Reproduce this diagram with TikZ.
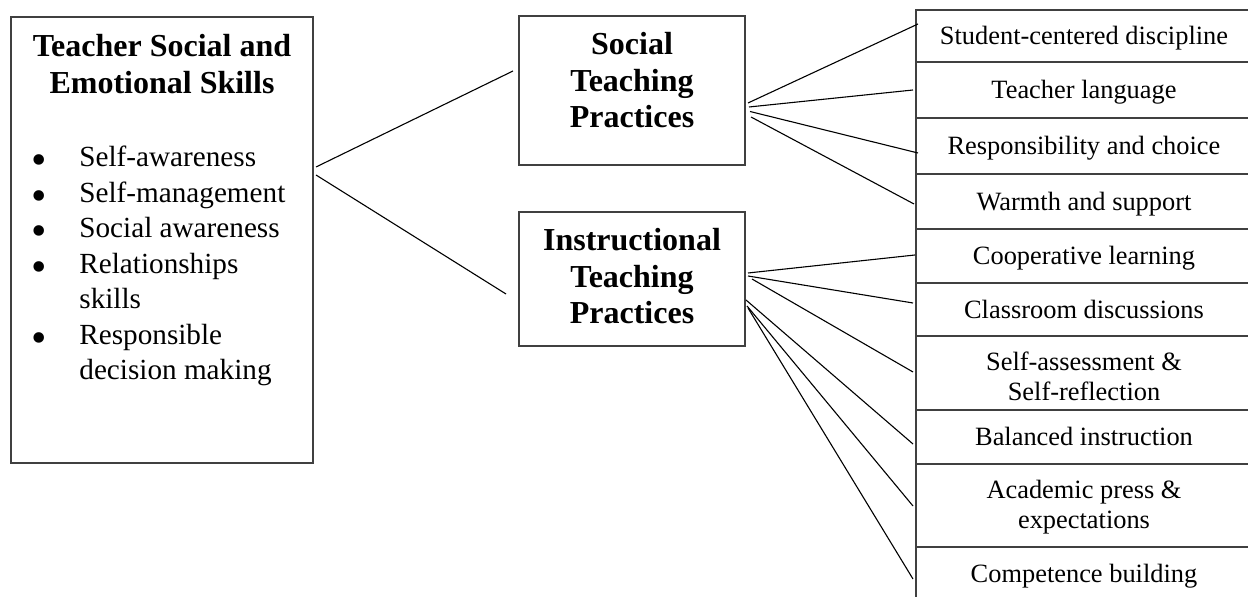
\documentclass[tikz,border=0pt]{standalone}
\usepackage{fontspec}
\setmainfont{Liberation Serif}
\newcommand{\bigbul}{\smash{\raisebox{-4pt}{\fontsize{22}{22}\selectfont\textbullet}}}
\begin{document}
\begin{tikzpicture}[x=0.5pt,y=-0.5pt,
  box/.style={draw=black!75, line width=1pt, inner sep=0pt},
  cell/.style={draw=black!75, line width=1pt, inner sep=0pt, anchor=north west,
     minimum width=168pt, align=center, font=\fontsize{13.2}{15}\selectfont},
  oneline/.style={text height=9pt, text depth=0pt},
  conn/.style={draw=black, line width=0.55pt},
  headtxt/.style={anchor=base, inner sep=0pt, align=center, font=\bfseries\fontsize{16}{18.3}\selectfont}]
\useasboundingbox (0,0) rectangle (1248,597);
\clip (0,0) rectangle (1248,597);
\fill[white] (0,0) rectangle (1248,597);

% left box
\node[box, minimum width=151pt, minimum height=223pt] (lb) at (162,240) {};
\node[headtxt, font=\bfseries\fontsize{16}{18.5}\selectfont] (lbt) at (162,94) {Teacher Social and\\Emotional Skills};
\node[anchor=base west, inner sep=0pt, font=\fontsize{14.6}{17.75}\selectfont] (lbl) at (31,167)
  {\begin{tabular}[t]{@{}p{24pt}@{}l@{}}
   \bigbul & Self-awareness\\
   \bigbul & Self-management\\
   \bigbul & Social awareness\\
   \bigbul & Relationships\\
           & skills\\
   \bigbul & Responsible\\
           & decision making
   \end{tabular}};

% middle boxes
\node[box, minimum width=113pt, minimum height=74.5pt] (soc) at (632,90.5) {};
\node[headtxt] (soct) at (632,128) {Social\\Teaching\\Practices};
\node[box, minimum width=113pt, minimum height=67pt] (ins) at (632,279) {};
\node[headtxt] (inst) at (632,324) {Instructional\\Teaching\\Practices};

% right column
\node[cell, oneline, minimum height=26pt] (r1) at (915,9) {Student-centered discipline};
\node[cell, oneline, minimum height=28pt] (r2) at (915,61) {Teacher language};
\node[cell, oneline, minimum height=28pt] (r3) at (915,117) {Responsibility and choice};
\node[cell, oneline, minimum height=27.5pt] (r4) at (915,173) {Warmth and support};
\node[cell, oneline, minimum height=27pt] (r5) at (915,228) {Cooperative learning};
\node[cell, oneline, minimum height=26.5pt] (r6) at (915,282) {Classroom discussions};
\node[cell, text height=28pt, text depth=0pt, minimum height=37pt] (r7) at (915,335) {Self-assessment \&\\Self-reflection};
\node[cell, oneline, minimum height=27pt] (r8) at (915,409) {Balanced instruction};
\node[cell, text depth=1pt, minimum height=41.5pt] (r9) at (915,463) {Academic press \&\\expectations};
\node[cell, oneline, minimum height=27pt] (r10) at (915,546) {Competence building};

% connectors
\draw[conn] ([shift={(2,-73)}]lb.east) -- ([shift={(-5,-19.5)}]soc.west);
\draw[conn] ([shift={(2,-65)}]lb.east) -- ([shift={(-12,15)}]ins.west);

\draw[conn] ([shift={(2,12.5)}]soc.east) -- ([shift={(3,-12)}]r1.west);
\draw[conn] ([shift={(3,16.5)}]soc.east) -- ([shift={(-2,0)}]r2.west);
\draw[conn] ([shift={(4,21)}]soc.east) -- ([shift={(3,7)}]r3.west);
\draw[conn] ([shift={(5,26.5)}]soc.east) -- ([shift={(-1,2.5)}]r4.west);

\draw[conn] ([shift={(2,-6)}]ins.east) -- ([shift={(0,-1)}]r5.west);
\draw[conn] ([shift={(2,-3)}]ins.east) -- ([shift={(-2,-6.5)}]r6.west);
\draw[conn] ([shift={(6,0)}]ins.east) -- ([shift={(-2,-1)}]r7.west);
\draw[conn] ([shift={(0,21)}]ins.east) -- ([shift={(-2,7)}]r8.west);
\draw[conn] ([shift={(1,27)}]ins.east) -- ([shift={(-2,0.5)}]r9.west);
\draw[conn] ([shift={(2,29)}]ins.east) -- ([shift={(-2,5)}]r10.west);
\end{tikzpicture}
\end{document}
